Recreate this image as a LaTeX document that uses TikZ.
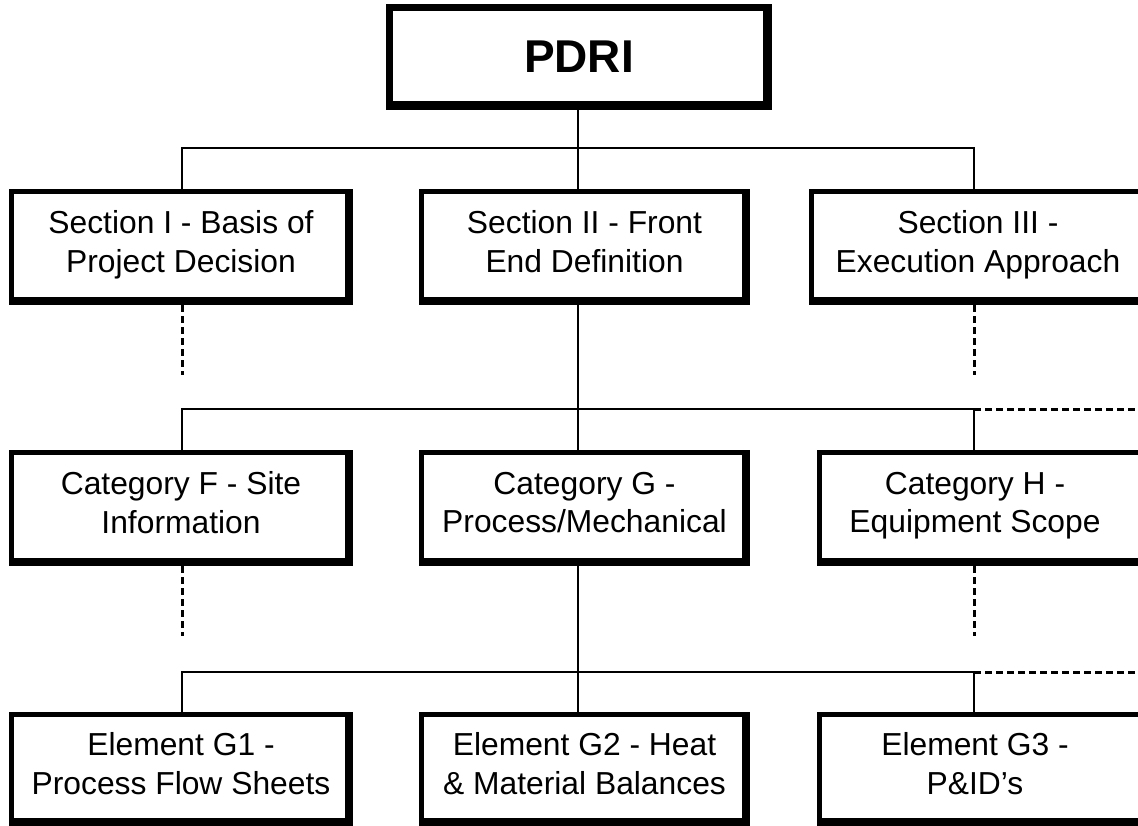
\documentclass[tikz,border=0pt]{standalone}
\usepackage{fontspec}
\setmainfont{Liberation Sans}
\begin{document}
\begin{tikzpicture}[x=1pt,y=-1pt,
  framed/.style 2 args={fill=black, inner sep=0pt, outer sep=0pt,
    path picture={\fill[white] ([shift={(#1,-#1)}]path picture bounding box.north west)
      rectangle ([shift={(-#2,#2)}]path picture bounding box.south east);}},
  box/.style={framed={5pt}{8pt}, minimum width=344pt, minimum height=116pt,
    align=center, font=\fontsize{31.8}{38.5}\selectfont,
    execute at begin node={\rule{0pt}{37pt}}, execute at end node=\strut},
  conn/.style={line width=2pt},
  stub/.style={line width=3pt, dash pattern=on 7pt off 4pt}]
\useasboundingbox (0,0) rectangle (1138,825);
\clip (0,0) rectangle (1138,825);
% top
\node[framed={6.5pt}{9.5pt}, minimum width=386pt, minimum height=106pt,
  font=\bfseries\fontsize{46}{50}\selectfont] (pdri) at (579,57) {PDRI};
% sections
\node[box] (s1) at (181,247) {Section I - Basis of\\Project Decision};
\node[box, minimum width=331pt] (s2) at (584.5,247) {Section II - Front\\End Definition};
\node[box, minimum width=338pt] (s3) at (978,247) {Section III -\\Execution Approach};
% categories
\node[box] (f) at (181,508) {Category F - Site\\Information};
\node[box, minimum width=331pt] (g) at (584.5,508) {Category G -\\Process/Mechanical};
\node[box] (h) at (989,508) {\hspace*{-28pt}Category H -\\\hspace*{-28pt}Equipment Scope};
% elements
\node[box, minimum height=114pt] (e1) at (181,769) {Element G1 -\\Process Flow Sheets};
\node[box, minimum height=114pt, minimum width=331pt] (e2) at (584.5,769) {Element G2 - Heat\\\& Material Balances};
\node[box, minimum height=114pt] (e3) at (989,769) {\hspace*{-28pt}Element G3 -\\\hspace*{-28pt}P\&ID’s};
% bus coordinates
\coordinate (tc) at (578,148);
\coordinate (tl) at (182,148);
\coordinate (tr) at (974,148);
\coordinate (mc) at (578,409);
\coordinate (ml) at (182,409);
\coordinate (mr) at (974,409);
\coordinate (me) at (1138,409);
\coordinate (bc) at (578,672);
\coordinate (bl) at (182,672);
\coordinate (br) at (974,672);
\coordinate (be) at (1138,672);
% level 1
\draw[conn] (pdri.south -| tc) -- (tc |- s2.north);
\draw[conn] (tl |- s1.north) -- (tl) -- (tr) -- (tr |- s3.north);
\draw[stub] (tl |- s1.south) -- ++(0,70);
\draw[stub] (tr |- s3.south) -- ++(0,70);
% level 2
\draw[conn] (mc |- s2.south) -- (mc |- g.north);
\draw[conn] (ml |- f.north) -- (ml) -- (mr) -- (mr |- h.north);
\draw[stub] (mr) -- (me);
\draw[stub] (ml |- f.south) -- ++(0,70);
\draw[stub] (mr |- h.south) -- ++(0,70);
% level 3
\draw[conn] (bc |- g.south) -- (bc |- e2.north);
\draw[conn] (bl |- e1.north) -- (bl) -- (br) -- (br |- e3.north);
\draw[stub] (br) -- (be);
\end{tikzpicture}
\end{document}
